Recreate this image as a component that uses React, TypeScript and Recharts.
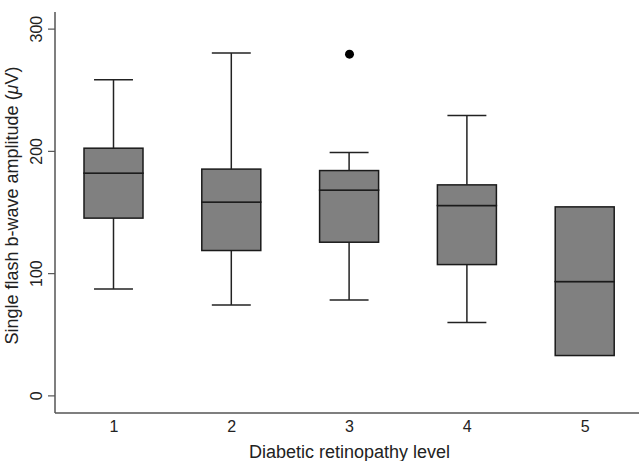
import React from 'react'
import { ComposedChart, Bar, Line, XAxis, YAxis, Label } from 'recharts'

// diabetic retinopathy level (categories)
const levels = ['1', '2', '3', '4', '5']

// box plot statistics, µV
const whiskerLow = [87.5, 74.4, 78.5, 60, 33]
const q1 = [145.4, 118.9, 125.7, 107.4, 33]
const median = [182.2, 158.5, 168.3, 155.7, 93.5]
const q3 = [202.6, 185.5, 184.3, 172.6, 154.6]
const whiskerHigh = [258.5, 280.4, 199, 229.3, 154.6]
const outliers: (number | null)[] = [null, null, 279.5, null, null]

const yTicks = [0, 100, 200, 300]

const FONT = '"Liberation Sans", Arial, Helvetica, sans-serif'
const INK = '#222'
const BOX_FILL = '#808080'

const data = levels.map((level, i) => ({
  level,
  base: whiskerLow[i],
  lowWhisker: q1[i] - whiskerLow[i],
  lowBox: median[i] - q1[i],
  highBox: q3[i] - median[i],
  highWhisker: whiskerHigh[i] - q3[i],
  outlier: outliers[i],
}))

const CAP = 0.66

// lower whisker: from min (bottom) up to Q1 (top), cap at bottom
const LowWhisker = (props: any) => {
  const { x, y, width, height } = props
  if (!height || height <= 0) return null
  const cx = x + width / 2
  const cw = (width * CAP) / 2
  return (
    <g>
      <line x1={cx} x2={cx} y1={y} y2={y + height} stroke={INK} strokeWidth={1.5} />
      <line x1={cx - cw} x2={cx + cw} y1={y + height} y2={y + height} stroke={INK} strokeWidth={1.5} />
    </g>
  )
}

// upper whisker: from Q3 (bottom) up to max (top), cap at top
const HighWhisker = (props: any) => {
  const { x, y, width, height } = props
  if (!height || height <= 0) return null
  const cx = x + width / 2
  const cw = (width * CAP) / 2
  return (
    <g>
      <line x1={cx} x2={cx} y1={y} y2={y + height} stroke={INK} strokeWidth={1.5} />
      <line x1={cx - cw} x2={cx + cw} y1={y} y2={y} stroke={INK} strokeWidth={1.5} />
    </g>
  )
}

const BoxHalf = (props: any) => {
  const { x, y, width, height } = props
  if (!height || height <= 0) return null
  return <rect x={x} y={y} width={width} height={height} fill={BOX_FILL} stroke="#1a1a1a" strokeWidth={1.5} />
}

const YTick = (props: any) => {
  const { x, y, payload } = props
  const bx = x - 4
  return (
    <text
      x={bx}
      y={y}
      transform={`rotate(-90, ${bx}, ${y})`}
      textAnchor="middle"
      fontSize={16}
      fontFamily={FONT}
      fill={INK}
    >
      {payload.value}
    </text>
  )
}

const OutlierDot = (props: any) => {
  const { cx, cy, payload, index } = props
  if (payload.outlier == null || cx == null || cy == null) return <g key={index} />
  return <circle key={index} cx={cx} cy={cy} r={4.5} fill="#000" />
}

export default function App() {
  return (
    <div style={{ position: 'absolute', left: 0, top: 0, width: 639, height: 461, overflow: 'hidden', background: '#fff' }}>
      <ComposedChart width={644} height={461} data={data} margin={{ top: 12, right: 0, left: 0, bottom: 0 }}>
        <XAxis
          dataKey="level"
          height={48}
          tickLine={false}
          tickMargin={2}
          axisLine={{ stroke: '#555', strokeWidth: 1.5 }}
          tick={{ fontSize: 16, fill: INK, fontFamily: FONT }}
        >
          <Label
            value="Diabetic retinopathy level"
            position="insideBottom"
            offset={3}
            style={{ fontSize: 18, fill: INK, fontFamily: FONT }}
          />
        </XAxis>
        <YAxis
          width={55}
          type="number"
          domain={[-14, 314]}
          allowDataOverflow
          ticks={yTicks}
          tickSize={7}
          axisLine={{ stroke: '#555', strokeWidth: 1.5 }}
          tickLine={{ stroke: '#555', strokeWidth: 1.2 }}
          tick={<YTick />}
        >
          <Label
            content={(p: any) => {
              const vb = p.viewBox
              const cx = 18
              const cy = vb.y + vb.height / 2 - 7
              return (
                <text
                  x={cx}
                  y={cy}
                  transform={`rotate(-90, ${cx}, ${cy})`}
                  textAnchor="middle"
                  fontSize={18}
                  fontFamily={FONT}
                  fill={INK}
                >
                  Single flash b-wave amplitude (<tspan fontStyle="italic">μ</tspan>V)
                </text>
              )
            }}
          />
        </YAxis>
        <Bar dataKey="base" stackId="box" barSize={59} fill="none" isAnimationActive={false} />
        <Bar dataKey="lowWhisker" stackId="box" barSize={59} shape={<LowWhisker />} isAnimationActive={false} />
        <Bar dataKey="lowBox" stackId="box" barSize={59} shape={<BoxHalf />} isAnimationActive={false} />
        <Bar dataKey="highBox" stackId="box" barSize={59} shape={<BoxHalf />} isAnimationActive={false} />
        <Bar dataKey="highWhisker" stackId="box" barSize={59} shape={<HighWhisker />} isAnimationActive={false} />
        <Line
          dataKey="outlier"
          stroke="none"
          dot={OutlierDot}
          activeDot={false}
          legendType="none"
          isAnimationActive={false}
        />
      </ComposedChart>
    </div>
  )
}
